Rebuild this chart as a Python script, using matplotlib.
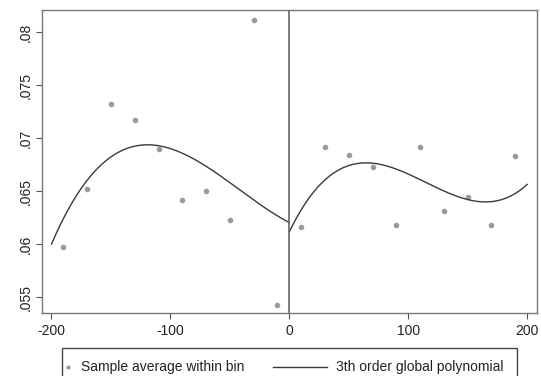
#importing libraries
import numpy as np
import matplotlib.pyplot as plt
from matplotlib.patches import Rectangle
from matplotlib.lines import Line2D

plt.rcParams['font.family'] = ['Liberation Sans', 'DejaVu Sans']
plt.rcParams['axes.unicode_minus'] = False

#bin averages on each side of the cutoff
bins_left = [-190, -170, -150, -130, -110, -90, -70, -50, -30, -10]
avg_left = [0.0597, 0.0652, 0.0732, 0.0717, 0.0690, 0.0642, 0.0650, 0.0623, 0.0812, 0.0543]
bins_right = [10, 30, 50, 70, 90, 110, 130, 150, 170, 190]
avg_right = [0.0616, 0.0692, 0.0684, 0.0673, 0.0618, 0.0692, 0.0631, 0.0645, 0.0618, 0.0683]

#values of the fitted polynomial on each side
fit_x_left = [-200, -185, -172, -152, -135, -121, -111, -105, -88, -71, -49, -26, 0]
fit_y_left = [0.0601, 0.0634, 0.0657, 0.0681, 0.0690, 0.06940, 0.06938, 0.0693, 0.0685, 0.0674, 0.0657, 0.0638, 0.0621]
fit_x_right = [0, 7, 18, 32, 46, 63, 77, 97, 119, 139, 158, 175, 189, 200]
fit_y_right = [0.0609, 0.0627, 0.0649, 0.0665, 0.0672, 0.06752, 0.06742, 0.06674, 0.06554, 0.06469, 0.06412, 0.06419, 0.06475, 0.06554]

x_ticks = [-200, -100, 0, 100, 200]
y_ticks = [0.055, 0.06, 0.065, 0.07, 0.075, 0.08]
y_labels = ['.055', '.06', '.065', '.07', '.075', '.08']

dot_color = '#9a9a9a'
line_color = '#3a3a3a'

#third order polynomial through the fitted values, one per side
coef_left = np.polyfit(fit_x_left, fit_y_left, 3)
coef_right = np.polyfit(fit_x_right, fit_y_right, 3)
xl = np.linspace(-200, 0, 200)
xr = np.linspace(0, 200, 200)

fig = plt.figure(figsize=(5.41, 3.76), dpi=100)
ax = fig.add_axes([0.0776, 0.1684, 0.9144, 0.805])

ax.plot(bins_left, avg_left, 'o', color=dot_color, ms=4, mec='none')
ax.plot(bins_right, avg_right, 'o', color=dot_color, ms=4, mec='none')
ax.plot(xl, np.polyval(coef_left, xl), color=line_color, lw=1.0)
ax.plot(xr, np.polyval(coef_right, xr), color=line_color, lw=1.0)
#cutoff line
ax.axvline(0, color='#666666', lw=1.2)

ax.set_xlim(-208, 208)
ax.set_ylim(0.05355, 0.0821)
ax.set_xticks(x_ticks)
ax.set_yticks(y_ticks)
ax.set_yticklabels(y_labels, rotation=90, va='center')
ax.tick_params(axis='both', direction='out', length=4, width=0.8, color='#555555',
               labelsize=10, labelcolor='#222222')
ax.tick_params(axis='x', pad=4)
ax.tick_params(axis='y', pad=3)
for s in ax.spines.values():
    s.set_color('#777777')
    s.set_linewidth(1.0)

#legend box below the plot
fig.patches.append(Rectangle((62 / 541, -0.02), (517 - 62) / 541, (376 - 348) / 376 + 0.02,
                             transform=fig.transFigure, fill=False, edgecolor='#444444', lw=1.0))
ly = 1 - 366.5 / 376
fig.lines.append(Line2D([68 / 541], [ly], transform=fig.transFigure, marker='o', ms=3,
                        color=dot_color, mec='none', ls='none'))
fig.text(81 / 541, ly, 'Sample average within bin', fontsize=10, va='center', color='#222222')
fig.lines.append(Line2D([273 / 541, 327 / 541], [ly, ly], transform=fig.transFigure,
                        color=line_color, lw=1.0))
fig.text(336 / 541, ly, '3th order global polynomial', fontsize=10, va='center', color='#222222')

plt.savefig('out.png', dpi=100)
